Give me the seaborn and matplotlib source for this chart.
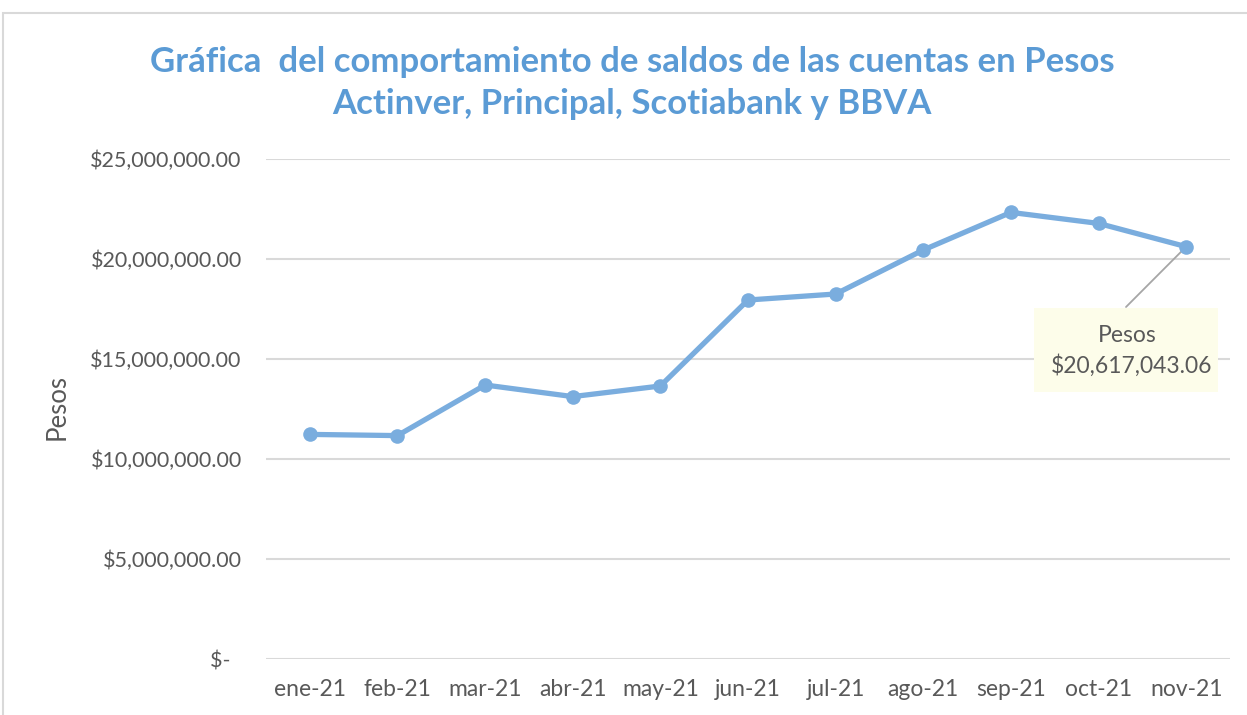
import matplotlib
matplotlib.use("Agg")
import matplotlib.pyplot as plt
from matplotlib.patches import Rectangle
from matplotlib.ticker import FuncFormatter
import seaborn as sns
import pandas as pd

months = ["ene-21", "feb-21", "mar-21", "abr-21", "may-21", "jun-21",
          "jul-21", "ago-21", "sep-21", "oct-21", "nov-21"]
saldos = [11230000, 11170000, 13700000, 13120000, 13650000, 17950000,
          18250000, 20450000, 22330000, 21780000, 20617043.06]
yticks = [0, 5000000, 10000000, 15000000, 20000000, 25000000]
title = "Gráfica  del comportamiento de saldos de las cuentas en Pesos\nActinver, Principal, Scotiabank y BBVA"
ylabel = "Pesos"
callout_name = "Pesos"

sns.set_theme(style="white")
plt.rcParams["font.family"] = ["Lato", "DejaVu Sans"]

W, H = 1247, 715
fig = plt.figure(figsize=(W / 100, H / 100), dpi=100)
fig.patch.set_facecolor("white")
fig.patches.append(Rectangle((3, -10), W + 10, H - 13 + 10, transform=None,
                             fill=False, edgecolor="#D9D9D9", linewidth=1.5))

ax = fig.add_axes([266 / W, 56 / H, 964 / W, 500 / H])
df = pd.DataFrame({"mes": months, "saldo": saldos})
df["x"] = range(len(df))
line_color = "#7AADDE"
sns.lineplot(data=df, x="x", y="saldo", ax=ax, color=line_color, linewidth=3.8,
             marker="o", markersize=10.5, markeredgewidth=0, zorder=3)

ax.set_xlim(-0.5, len(months) - 0.5)
ax.set_ylim(0, 25000000)
ax.set_yticks(yticks)
ax.set_xticks(range(len(months)))
ax.set_xticklabels(months)


def fmt(v, pos):
    if v == 0:
        return "$-  "
    return "${:,.2f}".format(v)


ax.yaxis.set_major_formatter(FuncFormatter(fmt))
ax.grid(axis="y", color="#D9D9D9", linewidth=1.5)
ax.grid(axis="x", visible=False)
for s in ax.spines.values():
    s.set_visible(False)
ax.tick_params(axis="both", length=0, colors="#595959")
ax.tick_params(axis="y", pad=17.5, labelsize=15.5)
ax.tick_params(axis="x", pad=14.5, labelsize=16.5)
ax.set_xlabel("")
ax.set_ylabel(ylabel, fontsize=18.5, color="#595959")
ax.yaxis.set_label_coords(-196 / 964, (659 - 407) / 500)

fig.text(632 / W, 1 - 83 / H, title, ha="center", va="center", fontsize=25,
         fontweight="bold", color="#5B9BD5", linespacing=1.4)

# callout
fig.patches.append(Rectangle((1034, H - 392), 184, 84, transform=None,
                             facecolor="#FDFDEA", edgecolor="none", zorder=4))
ax.annotate("", xy=(len(months) - 1, saldos[-1]), xycoords="data",
            xytext=(1126, H - 307), textcoords="figure pixels",
            arrowprops=dict(arrowstyle="-", color="#A6A6A6", lw=1.3,
                            shrinkA=0, shrinkB=0), zorder=2)
fig.text(1127 / W, 1 - 336 / H, callout_name, ha="center", va="center",
         fontsize=16.5, color="#595959", zorder=5)
fig.text(1132 / W, 1 - 366 / H, "${:,.2f}".format(saldos[-1]), ha="center",
         va="center", fontsize=16.5, color="#595959", zorder=5)

fig.savefig("out.png", dpi=100)
